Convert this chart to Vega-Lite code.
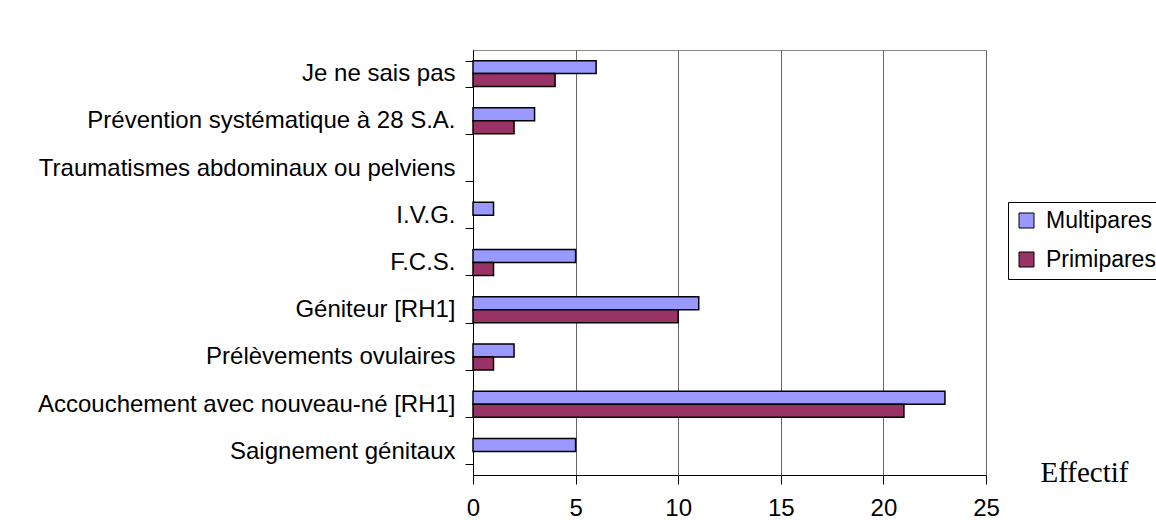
{
  "$schema": "https://vega.github.io/schema/vega-lite/v6.json",
  "width": 513,
  "height": 425,
  "autosize": {"type": "none"},
  "padding": {"left": 473, "top": 50, "right": 170, "bottom": 45},
  "background": "white",
  "config": {
    "view": {"stroke": "#888888", "strokeWidth": 1},
    "font": "Liberation Sans"
  },
  "data": {
    "values": [
      {"cause": "Je ne sais pas", "groupe": "Multipares", "effectif": 6},
      {"cause": "Je ne sais pas", "groupe": "Primipares", "effectif": 4},
      {"cause": "Prévention systématique à 28 S.A.", "groupe": "Multipares", "effectif": 3},
      {"cause": "Prévention systématique à 28 S.A.", "groupe": "Primipares", "effectif": 2},
      {"cause": "I.V.G.", "groupe": "Multipares", "effectif": 1},
      {"cause": "F.C.S.", "groupe": "Multipares", "effectif": 5},
      {"cause": "F.C.S.", "groupe": "Primipares", "effectif": 1},
      {"cause": "Géniteur [RH1]", "groupe": "Multipares", "effectif": 11},
      {"cause": "Géniteur [RH1]", "groupe": "Primipares", "effectif": 10},
      {"cause": "Prélèvements ovulaires", "groupe": "Multipares", "effectif": 2},
      {"cause": "Prélèvements ovulaires", "groupe": "Primipares", "effectif": 1},
      {"cause": "Accouchement avec nouveau-né [RH1]", "groupe": "Multipares", "effectif": 23},
      {"cause": "Accouchement avec nouveau-né [RH1]", "groupe": "Primipares", "effectif": 21},
      {"cause": "Saignement génitaux", "groupe": "Multipares", "effectif": 5}
    ]
  },
  "mark": {"type": "bar", "stroke": "black", "strokeWidth": 1.5},
  "encoding": {
    "y": {
      "field": "cause",
      "type": "nominal",
      "scale": {
        "domain": ["Je ne sais pas", "Prévention systématique à 28 S.A.", "Traumatismes abdominaux ou pelviens", "I.V.G.", "F.C.S.", "Géniteur [RH1]", "Prélèvements ovulaires", "Accouchement avec nouveau-né [RH1]", "Saignement génitaux"],
        "paddingInner": 0.45,
        "paddingOuter": 0.225
      },
      "axis": {
        "title": null,
        "tickBand": "extent",
        "tickSize": 8,
        "tickColor": "black",
        "domainColor": "black",
        "labelPadding": 10,
        "labelFontSize": 24,
        "labelColor": "black",
        "labelFont": "Liberation Sans",
        "labelLimit": 600,
        "grid": false
      }
    },
    "yOffset": {
      "field": "groupe",
      "type": "nominal",
      "scale": {"domain": ["Multipares", "Primipares"], "paddingInner": 0, "paddingOuter": 0}
    },
    "x": {
      "field": "effectif",
      "type": "quantitative",
      "scale": {"domain": [0, 25], "nice": false},
      "axis": {
        "values": [0, 5, 10, 15, 20, 25],
        "title": "Effectif",
        "titleFont": "Liberation Serif",
        "titleFontSize": 29,
        "titleFontWeight": "normal",
        "titleColor": "black",
        "titleAnchor": "end",
        "titleAlign": "right",
        "titleBaseline": "alphabetic",
        "titleX": 655,
        "titleY": 6,
        "grid": true,
        "gridColor": "#666666",
        "gridWidth": 1,
        "tickSize": 9,
        "tickColor": "black",
        "domainColor": "black",
        "labelPadding": 12,
        "labelFontSize": 24,
        "labelColor": "black",
        "labelFont": "Liberation Sans",
        "labelFlush": false
      }
    },
    "color": {
      "field": "groupe",
      "type": "nominal",
      "scale": {"domain": ["Multipares", "Primipares"], "range": ["#9999FF", "#993366"]},
      "legend": {
        "title": null,
        "orient": "none",
        "legendX": 535,
        "legendY": 152,
        "strokeColor": "black",
        "padding": 7,
        "symbolType": "square",
        "symbolSize": 225,
        "symbolStrokeColor": "black",
        "symbolStrokeWidth": 1,
        "symbolOpacity": 1,
        "labelFontSize": 23,
        "labelFont": "Liberation Sans",
        "labelColor": "black",
        "labelOffset": 8,
        "rowPadding": 15,
        "labelLimit": 300
      }
    }
  }
}
